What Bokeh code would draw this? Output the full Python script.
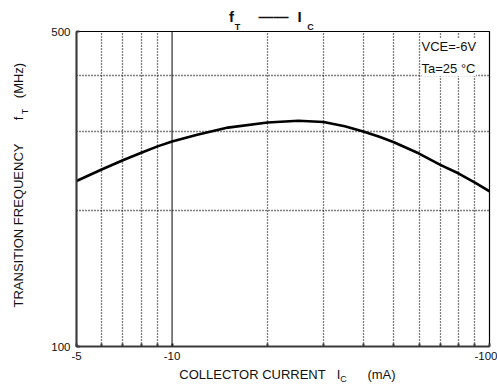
from bokeh.plotting import figure
from bokeh.models import FixedTicker, Span, Label, LinearAxis, Range1d, LinearScale
from bokeh.embed import file_html
from bokeh.resources import INLINE

# ---- data ----
ic_ma = [5, 6, 7, 8, 9, 10, 12, 15, 20, 25, 30, 35, 40, 45, 50, 60, 70, 80, 90, 100]
ft_mhz = [233, 247, 259, 269, 278, 285, 295, 306, 314, 317, 315, 308, 300, 292, 284, 268, 253, 242, 231, 221]
x_ticks = [5, 6, 7, 8, 9, 10, 20, 30, 40, 50, 60, 70, 80, 90, 100]
x_tick_labels = {5: "-5", 10: "-10", 100: "-100"}
x_grid = [6, 7, 8, 9, 20, 30, 40, 50, 60, 70, 80, 90]
x_solid = 10
y_ticks = [100, 500]
y_tick_labels = {100: "100", 500: "500"}
y_grid = [200, 300, 400]

title_parts = ["f", "\u2014\u2014", "I"]
title_subs = ["T", "C"]
ylabel_parts = ["TRANSITION FREQUENCY", "f", "(MHz)"]
ylabel_subs = ["T"]
xlabel_parts = ["COLLECTOR CURRENT", "I", "(mA)"]
xlabel_subs = ["C"]
condition_text = "VCE=-6V\nTa=25 \u00b0C"

# ---- layout (canvas pixels) ----
FONT = "Liberation Sans"
FL, FT, FR, FB = 76, 31, 8, 41
W, H = 497, 387
title_pos = [231, 273, 299]
title_sub_pos = [237, 310]
ylabel_pos = [225, 118, 80]
ylabel_sub_pos = [111]
xlabel_pos = [252, 338, 381]
xlabel_sub_pos = [343]

p = figure(width=W, height=H, x_axis_type="log", y_axis_type="log",
           x_range=(5, 100), y_range=(100, 500),
           output_backend="svg", toolbar_location=None,
           min_border_left=FL, min_border_right=FR,
           min_border_top=FT, min_border_bottom=FB)
p.title.visible = False
p.background_fill_color = "white"
p.border_fill_color = "white"
p.outline_line_color = "black"
p.outline_line_width = 1.2
p.extra_x_ranges = {"xpx": Range1d(FL, W - FR)}
p.extra_y_ranges = {"ypx": Range1d(H - FB, FT)}
p.extra_x_scales = {"xpx": LinearScale()}
p.extra_y_scales = {"ypx": LinearScale()}

# axes
p.xaxis.ticker = FixedTicker(ticks=x_ticks)
p.xaxis.major_label_overrides = {t: x_tick_labels.get(t, "") for t in x_ticks}
p.yaxis.ticker = FixedTicker(ticks=y_ticks)
p.yaxis.major_label_overrides = {t: y_tick_labels.get(t, "") for t in y_ticks}
for ax in (p.xaxis, p.yaxis):
    ax.axis_line_color = "#3a3a3a"
    ax.axis_line_width = 2
    ax.major_tick_in = 3
    ax.major_tick_out = 0
    ax.major_tick_line_color = "#3a3a3a"
    ax.major_tick_line_width = 2
    ax.minor_tick_line_color = None
    ax.minor_tick_in = 0
    ax.minor_tick_out = 0
    ax.major_label_text_font = FONT
    ax.major_label_text_font_size = "11.5px"
    ax.major_label_text_color = "#111111"
p.xaxis.major_label_standoff = 5
p.yaxis.major_label_standoff = 6

# grids
p.xgrid.ticker = FixedTicker(ticks=x_grid)
p.ygrid.ticker = FixedTicker(ticks=y_grid)
for g in (p.xgrid, p.ygrid):
    g.grid_line_color = "black"
    g.grid_line_alpha = 1.0
    g.grid_line_width = 1.3
    g.grid_line_dash = "1 2"

p.add_layout(Span(location=x_solid, dimension="height", line_color="black", line_width=1))

# curve
p.line(ic_ma, ft_mhz, line_color="black", line_width=2.6)


def text_axis(texts, positions, size, standoff, bold=False, vertical=False, **rng):
    ax = LinearAxis(ticker=FixedTicker(ticks=positions),
                    major_label_overrides=dict(zip(positions, texts)),
                    axis_line_color=None, major_tick_line_color=None,
                    minor_tick_line_color=None, major_tick_in=0, major_tick_out=0,
                    minor_tick_in=0, minor_tick_out=0,
                    major_label_standoff=standoff,
                    major_label_text_font=FONT, major_label_text_font_size=size,
                    major_label_text_font_style="bold" if bold else "normal",
                    major_label_text_color="#111111", **rng)
    if vertical:
        ax.major_label_orientation = "vertical"
    return ax

# title  f_T —— I_C  (subscripts nearest the frame, main letters above)
p.add_layout(text_axis(title_subs, title_sub_pos, "9px", 0, bold=True, x_range_name="xpx"), "above")
p.add_layout(text_axis(title_parts, title_pos, "15px", -6, bold=True, x_range_name="xpx"), "above")

# y axis title
p.add_layout(text_axis(ylabel_subs, ylabel_sub_pos, "9px", 19, vertical=True, y_range_name="ypx"), "left")
p.add_layout(text_axis(ylabel_parts, ylabel_pos, "13px", -9, vertical=True, y_range_name="ypx"), "left")

# x axis title
p.add_layout(text_axis(xlabel_parts, xlabel_pos, "13px", 4, x_range_name="xpx"), "below")
p.add_layout(text_axis(xlabel_subs, xlabel_sub_pos, "9px", -11, x_range_name="xpx"), "below")

# condition box
p.add_layout(Label(x=421 - FL, y=(H - FB) - 57, x_units="screen", y_units="screen",
                   text=condition_text, text_font=FONT, text_font_size="13px",
                   text_align="left", text_baseline="middle", text_line_height=1.5,
                   text_color="#111111", background_fill_color="white"))

open("out.html", "w").write(file_html(p, INLINE))
